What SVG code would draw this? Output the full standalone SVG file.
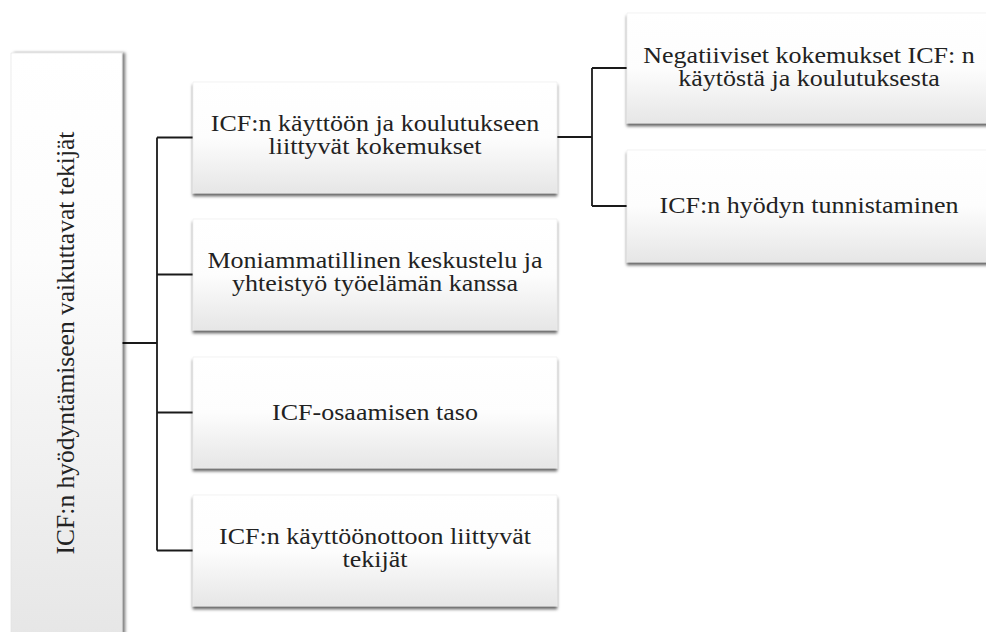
<svg xmlns="http://www.w3.org/2000/svg" width="986" height="632" viewBox="0 0 986 632">
<defs>
<linearGradient id="gv" x1="0" y1="0" x2="0" y2="1">
<stop offset="0" stop-color="#ffffff"/>
<stop offset="0.5" stop-color="#fdfdfd"/>
<stop offset="1" stop-color="#e6e6e6"/>
</linearGradient>
<linearGradient id="gl" x1="0" y1="0" x2="0" y2="1">
<stop offset="0" stop-color="#ffffff"/>
<stop offset="0.35" stop-color="#fcfcfc"/>
<stop offset="1" stop-color="#e6e6e6"/>
</linearGradient>
<filter id="sh" x="-10%" y="-10%" width="120%" height="130%">
<feDropShadow dx="0" dy="3" stdDeviation="1.4" flood-color="#000" flood-opacity="0.6"/>
</filter>
<filter id="shr" x="-10%" y="-5%" width="130%" height="110%">
<feDropShadow dx="3" dy="0" stdDeviation="1.4" flood-color="#000" flood-opacity="0.5"/>
</filter>
</defs>
<style>
.box{fill:url(#gv);stroke:#ececec;stroke-width:0.6;filter:url(#sh)}
.lbox{fill:url(#gl);stroke:#e0e0e0;stroke-width:0.6;filter:url(#shr)}
.t{font-family:"Liberation Serif","Times New Roman",serif;font-size:26px;fill:#222222;text-anchor:middle}
.con{fill:none;stroke:#1a1a1a;stroke-width:1.8}
</style>
<rect width="986" height="632" fill="#ffffff"/>

<g id="connectors">
<path class="con" d="M122,343 H157 M157,137.5 V550.5 M157,137.5 H193 M157,274.5 H193 M157,412.5 H193 M157,550.5 H193"/>
<path class="con" d="M557,137 H592 M592,68 V206 M592,68 H627 M592,206 H627"/>
</g>

<g id="root">
<rect class="lbox" x="11" y="53" width="111" height="590"/>
<text class="t" transform="translate(74,343) rotate(-90)" style="font-size:25.5px">ICF:n hyödyntämiseen vaikuttavat tekijät</text>
</g>

<g id="n1">
<rect class="box" x="193" y="82" width="364" height="111"/>
<text class="t" transform="translate(375,131) scale(1,0.89)"><tspan x="0" y="0">ICF:n käyttöön ja koulutukseen</tspan><tspan x="0" y="26">liittyvät kokemukset</tspan></text>
</g>

<g id="n2">
<rect class="box" x="193" y="219" width="364" height="111"/>
<text class="t" transform="translate(375,268) scale(1,0.89)"><tspan x="0" y="0">Moniammatillinen keskustelu ja</tspan><tspan x="0" y="26">yhteistyö työelämän kanssa</tspan></text>
</g>

<g id="n3">
<rect class="box" x="193" y="357" width="364" height="111"/>
<text class="t" transform="translate(375,419.5) scale(1,0.89)">ICF-osaamisen taso</text>
</g>

<g id="n4">
<rect class="box" x="193" y="495" width="364" height="111"/>
<text class="t" transform="translate(375,544) scale(1,0.89)"><tspan x="0" y="0">ICF:n käyttöönottoon liittyvät</tspan><tspan x="0" y="26">tekijät</tspan></text>
</g>

<g id="n1a">
<rect class="box" x="627" y="13" width="364" height="110"/>
<text class="t" transform="translate(809,63) scale(1,0.89)"><tspan x="0" y="0">Negatiiviset kokemukset ICF: n</tspan><tspan x="0" y="26">käytöstä ja koulutuksesta</tspan></text>
</g>

<g id="n1b">
<rect class="box" x="627" y="150" width="364" height="112"/>
<text class="t" transform="translate(809,213) scale(1,0.89)">ICF:n hyödyn tunnistaminen</text>
</g>
</svg>
